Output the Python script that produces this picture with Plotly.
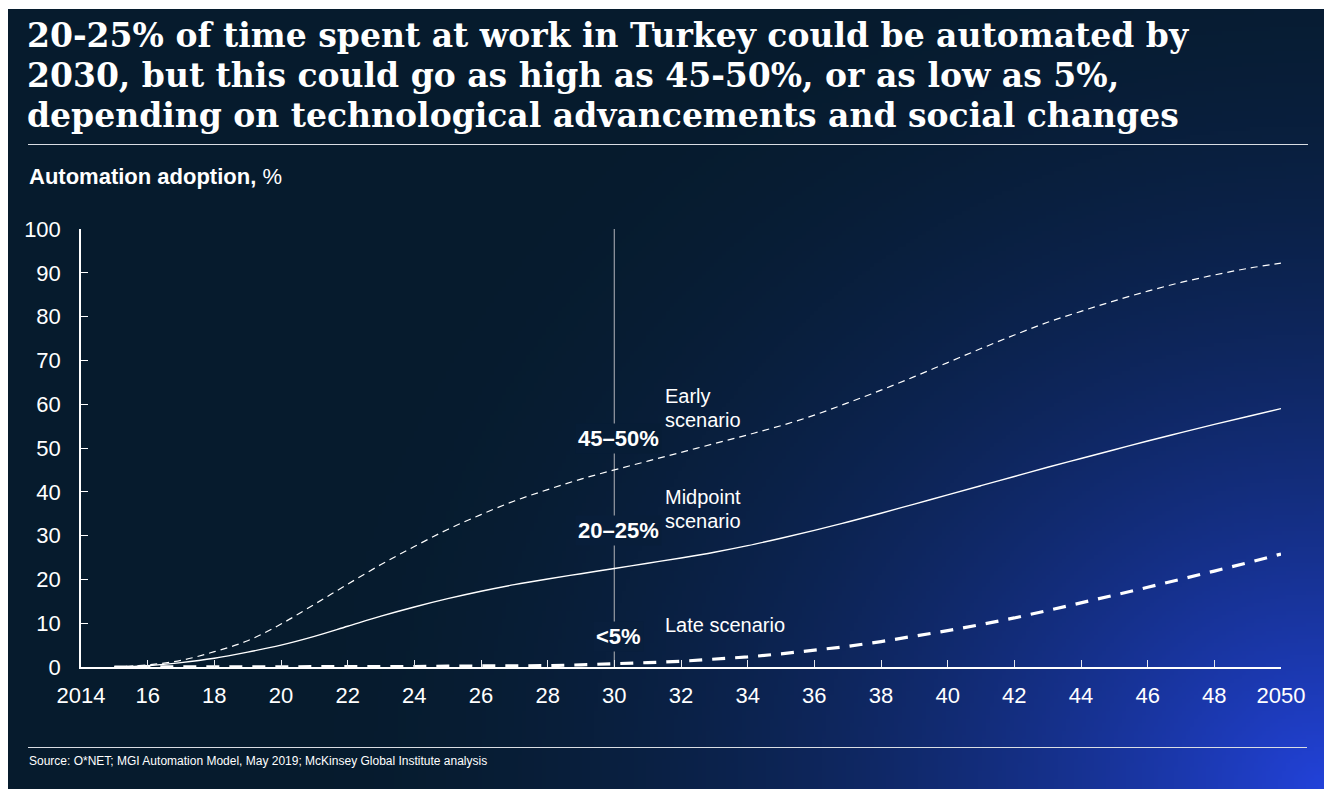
import base64
import struct
import zlib

import numpy as np
import plotly.graph_objects as go

# ---- data -----------------------------------------------------------------
years = list(range(2015, 2051))

early_scenario = [0.0, 0.5, 1.5, 3.5, 6.0, 9.8, 14.3, 18.9, 23.4, 27.5,
                  31.4, 34.8, 37.9, 40.5, 42.9, 45.0, 47.0, 49.0, 51.0, 53.0,
                  55.1, 57.5, 60.3, 63.2, 66.3, 69.5, 72.7, 75.8, 78.7, 81.2,
                  83.6, 85.8, 87.8, 89.5, 91.0, 92.2]
midpoint_scenario = [0.0, 0.3, 1.0, 2.0, 3.4, 5.0, 7.0, 9.3, 11.6, 13.7,
                     15.6, 17.3, 18.8, 20.1, 21.3, 22.5, 23.7, 24.9, 26.2, 27.7,
                     29.4, 31.2, 33.1, 35.1, 37.2, 39.3, 41.4, 43.5, 45.6, 47.6,
                     49.6, 51.6, 53.5, 55.4, 57.2, 59.0]
late_scenario = [0.0, 0.0, 0.0, 0.0, 0.0, 0.0, 0.0, 0.1, 0.1, 0.1,
                 0.2, 0.2, 0.3, 0.3, 0.5, 0.7, 1.0, 1.3, 1.8, 2.3,
                 3.0, 3.8, 4.7, 5.8, 7.0, 8.3, 9.7, 11.2, 12.9, 14.6,
                 16.4, 18.2, 20.0, 21.9, 23.8, 25.8]

x_tickvals = list(range(2014, 2051, 2))
x_ticktext = ["2014"] + [str(v % 100) for v in x_tickvals[1:-1]] + ["2050"]
y_tickvals = list(range(0, 101, 10))

marker_year = 2030
range_labels = ["45–50%", "20–25%", "<5%"]

title_lines = [
    "20-25% of time spent at work in Turkey could be automated by",
    "2030, but this could go as high as 45-50%, or as low as 5%,",
    "depending on technological advancements and social changes",
]
subtitle = "<b>Automation adoption,</b> %"
source_note = "Source: O*NET; MGI Automation Model, May 2019; McKinsey Global Institute analysis"

# ---- page geometry ----------------------------------------------------------
W, H = 1324, 789
L, R, T, B = 81, 43, 229, 122
PW, PH = W - L - R, H - T - B
SANS = "Arial, 'Liberation Sans', sans-serif"
SERIF = "Georgia, 'DejaVu Serif', serif"

DARK = np.array([6, 27, 45], dtype=float)
BRIGHT = np.array([34, 66, 218], dtype=float)


def px(x):
    return (x - L) / PW


def py(y):
    return (H - B - y) / PH


def glow(x, y):
    """Blend from deep navy to bright blue towards the lower right corner."""
    d = np.sqrt(((W - x) / 1050.0) ** 2 + ((H - y) / 950.0) ** 2)
    t = np.clip(1.0 - d, 0.0, 1.0) ** 2.0
    return DARK[None, None, :] * (1 - t[..., None]) + BRIGHT[None, None, :] * t[..., None]


def rgb_at(x, y):
    c = glow(np.array([[x]], float), np.array([[y]], float))[0, 0]
    return "rgb(%d,%d,%d)" % tuple(int(round(v)) for v in c)


def png_data_uri(arr):
    h, w, _ = arr.shape
    raw = b"".join(b"\x00" + arr[i].tobytes() for i in range(h))

    def chunk(tag, data):
        return (struct.pack(">I", len(data)) + tag + data
                + struct.pack(">I", zlib.crc32(tag + data) & 0xFFFFFFFF))

    png = (b"\x89PNG\r\n\x1a\n"
           + chunk(b"IHDR", struct.pack(">IIBBBBB", w, h, 8, 2, 0, 0, 0))
           + chunk(b"IDAT", zlib.compress(raw, 9))
           + chunk(b"IEND", b""))
    return "data:image/png;base64," + base64.b64encode(png).decode()


# background panel (starts 8px from the left, 9px from the top)
BX0, BY0 = 8, 9
gw, gh = 329, 195
gx = BX0 + (np.arange(gw) + 0.5) * (W - BX0) / gw
gy = BY0 + (np.arange(gh) + 0.5) * (H - BY0) / gh
GX, GY = np.meshgrid(gx, gy)
bg = np.clip(np.round(glow(GX, GY)), 0, 255).astype(np.uint8)

fig = go.Figure()

fig.add_trace(go.Scatter(
    x=years, y=late_scenario, mode="lines", name="Late scenario",
    line=dict(color="white", width=3.2, dash="13px,10px"), hoverinfo="skip"))
fig.add_trace(go.Scatter(
    x=years, y=midpoint_scenario, mode="lines", name="Midpoint scenario",
    line=dict(color="white", width=1.4, shape="spline"), hoverinfo="skip"))
fig.add_trace(go.Scatter(
    x=years, y=early_scenario, mode="lines", name="Early scenario",
    line=dict(color="white", width=1.2, dash="7px,5px", shape="spline"),
    hoverinfo="skip"))

# 2030 marker line
fig.add_shape(type="line", xref="x", yref="y", x0=marker_year, x1=marker_year,
              y0=0, y1=100, line=dict(color="#8c929c", width=1.3), layer="below")

annotations = []
for i, line in enumerate(title_lines):
    annotations.append(dict(
        text="<b>%s</b>" % line, xref="paper", yref="paper",
        x=px(25), y=py(36 + i * 39.5), xanchor="left", yanchor="middle",
        showarrow=False, font=dict(family=SERIF, size=33, color="white")))

annotations.append(dict(
    text=subtitle, xref="paper", yref="paper", x=px(27), y=py(176),
    xanchor="left", yanchor="middle", showarrow=False,
    font=dict(family=SANS, size=22, color="white")))

annotations.append(dict(
    text=source_note, xref="paper", yref="paper", x=px(27), y=py(761),
    xanchor="left", yanchor="middle", showarrow=False,
    font=dict(family=SANS, size=12, color="white")))

# range labels on the 2030 marker
label_px_y = [438, 530, 636]
for text, ly in zip(range_labels, label_px_y):
    annotations.append(dict(
        text="<b>%s</b>" % text, xref="x", yref="paper", x=marker_year,
        y=py(ly), xanchor="center", yanchor="middle", xshift=4,
        showarrow=False, bgcolor=rgb_at(616, ly), borderpad=2,
        font=dict(family=SANS, size=22, color="white")))

scenario_labels = [("Early", 396), ("scenario", 420), ("Midpoint", 497),
                   ("scenario", 521), ("Late scenario", 625)]
for text, ly in scenario_labels:
    annotations.append(dict(
        text=text, xref="paper", yref="paper", x=px(663), y=py(ly),
        xanchor="left", yanchor="middle", showarrow=False,
        font=dict(family=SANS, size=20, color="white")))

for y_rule, x_end in [(144.5, 1308), (747.5, 1307)]:
    fig.add_shape(type="line", xref="paper", yref="paper", x0=px(28),
                  x1=px(x_end), y0=py(y_rule), y1=py(y_rule),
                  line=dict(color="#d9dde3", width=1))

fig.update_layout(
    width=W, height=H,
    margin=dict(l=L, r=R, t=T, b=B, pad=0, autoexpand=False),
    paper_bgcolor="white", plot_bgcolor="rgba(0,0,0,0)",
    showlegend=False,
    annotations=annotations,
    images=[dict(source=png_data_uri(bg), xref="paper", yref="paper",
                 x=px(BX0), y=py(BY0), sizex=(W - BX0) / PW,
                 sizey=(H - BY0) / PH, xanchor="left", yanchor="top",
                 sizing="stretch", layer="below")],
    font=dict(family=SANS, color="white"),
)

fig.update_xaxes(
    range=[2014, 2050], tickvals=x_tickvals, ticktext=x_ticktext,
    showgrid=False, zeroline=False, showline=True, linecolor="white",
    linewidth=1.5, ticks="inside", ticklen=7, tickwidth=1.3,
    tickcolor="#e6e8ec", ticklabelstandoff=8,
    tickfont=dict(family=SANS, size=22, color="white"))
fig.update_yaxes(
    range=[0, 100], tickvals=y_tickvals,
    showgrid=False, zeroline=False, showline=True, linecolor="white",
    linewidth=1.5, ticks="inside", ticklen=7, tickwidth=1.3,
    tickcolor="white", ticklabelstandoff=14,
    tickfont=dict(family=SANS, size=22, color="white"))

fig.write_html("out.html", config={"displayModeBar": False})
